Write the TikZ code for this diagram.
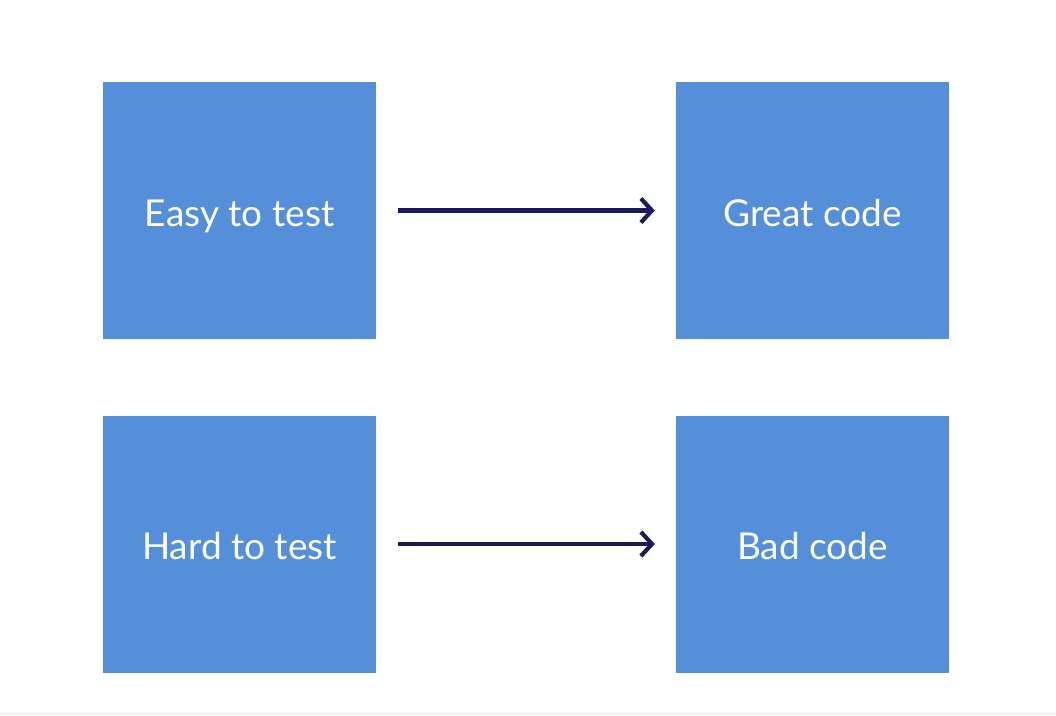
\documentclass[tikz,border=0pt]{standalone}
\usepackage{fontspec}
\setmainfont{Lato}
\usetikzlibrary{arrows.meta}
\definecolor{boxblue}{HTML}{558ED9}
\definecolor{arrownavy}{HTML}{1C1A5C}

\begin{document}
\begin{tikzpicture}[x=1pt, y=-1pt,
    box/.style = {fill=boxblue, minimum width=273pt, minimum height=257pt, inner sep=0pt, text=white, text height=31pt, text depth=0pt, font=\fontsize{37}{42}\selectfont},
    link/.style = {draw=arrownavy, line width=4.2pt, -{Straight Barb[length=11pt, width=24pt, line width=4.2pt]}, shorten <=22pt, shorten >=21pt}]

    % Okvir slike
    \useasboundingbox (0,0) rectangle (1056,715);
    \fill[gray!8] (0,712) rectangle (1056,715);

    % Definicija vozlišč
    \node[box] (easy) at (239.5,210.5) {Easy to test};
    \node[box] (great) at (812.5,210.5) {Great code};
    \node[box] (hard) at (239.5,544) {Hard to test};
    \node[box] (bad) at (812.5,544) {Bad code};

    % Povezave
    \draw[link] (easy) -- (great);
    \draw[link] (hard) -- (bad);

\end{tikzpicture}
\end{document}
